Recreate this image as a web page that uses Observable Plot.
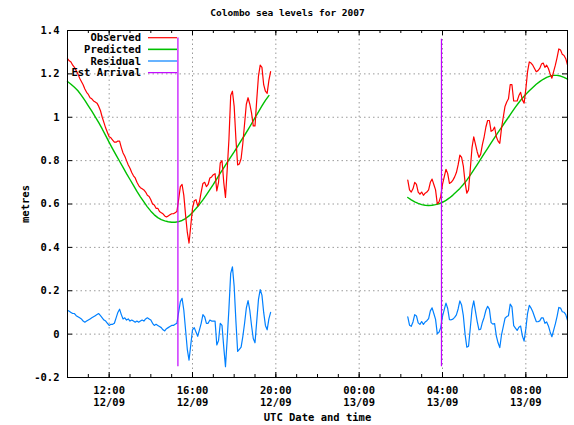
<!DOCTYPE html>
<html>
<head>
<meta charset="utf-8">
<script src="https://cdn.jsdelivr.net/npm/d3@7"></script>
<script src="https://cdn.jsdelivr.net/npm/@observablehq/plot@0.6"></script>
<style>
  html, body { margin: 0; padding: 0; background: #fff; }
  #wrap { position: relative; width: 574px; height: 425px; }
  #wrap svg { display: block; }
  #legend { position: absolute; left: 0; top: 0; pointer-events: none; }
</style>
</head>
<body>
<div id="wrap"></div>
<script>
const title = "Colombo sea levels for 2007";
const xLabel = "UTC Date and time";
const yLabel = "metres";

// Segment 1 (12/09) and segment 2 (13/09), observed/residual every 5 min, predicted every 10 min
const seg1Start = "2007-09-12T10:00Z";
const seg2Start = "2007-09-13T02:20Z";
const obsStepMin = 5;
const predStepMin = 10;

const observed1 = [
  1.27, 1.26, 1.255, 1.24, 1.23, 1.215, 1.20, 1.18, 1.165, 1.15, 1.13, 1.115,
  1.105, 1.09, 1.085, 1.075, 1.07, 1.065, 1.05, 1.03, 1.00, 0.975, 0.95, 0.93,
  0.91, 0.905, 0.895, 0.885, 0.885, 0.89, 0.89, 0.86, 0.835, 0.82, 0.80, 0.78,
  0.765, 0.745, 0.73, 0.72, 0.70, 0.685, 0.675, 0.67, 0.665, 0.655, 0.64, 0.635,
  0.62, 0.60, 0.595, 0.58, 0.58, 0.565, 0.56, 0.555, 0.545, 0.54, 0.545, 0.55,
  0.555, 0.555, 0.56, 0.565, 0.62, 0.68, 0.69, 0.64, 0.55, 0.47, 0.42, 0.50,
  0.58, 0.615, 0.62, 0.59, 0.61, 0.655, 0.695, 0.70, 0.68, 0.69, 0.72, 0.725,
  0.735, 0.74, 0.66, 0.70, 0.79, 0.80, 0.70, 0.63, 0.76, 0.90, 1.10, 1.12,
  1.05, 0.90, 0.78, 0.785, 0.81, 0.88, 0.97, 1.06, 1.09, 1.06, 1.02, 0.96,
  0.96, 1.08, 1.19, 1.24, 1.23, 1.15, 1.12, 1.11, 1.17, 1.21
];
const predicted1 = [
  1.165, 1.152, 1.138, 1.122, 1.101, 1.078,
  1.053, 1.028, 1.002, 0.975, 0.946, 0.915,
  0.884, 0.854, 0.825, 0.797, 0.769, 0.74,
  0.713, 0.686, 0.658, 0.633, 0.61, 0.587,
  0.567, 0.55, 0.537, 0.528, 0.522, 0.518,
  0.516, 0.516, 0.519, 0.524, 0.533, 0.545,
  0.561, 0.579, 0.598, 0.619, 0.642, 0.666,
  0.69, 0.716, 0.742, 0.767, 0.792, 0.816,
  0.84, 0.866, 0.892, 0.917, 0.943, 0.97,
  0.998, 1.025, 1.052, 1.078, 1.10
];
const residual1 = [
  0.11, 0.105, 0.10, 0.095, 0.095, 0.085, 0.08, 0.075, 0.07, 0.06, 0.055, 0.06,
  0.065, 0.07, 0.075, 0.08, 0.085, 0.09, 0.095, 0.085, 0.075, 0.065, 0.06, 0.05,
  0.04, 0.045, 0.045, 0.05, 0.075, 0.10, 0.115, 0.09, 0.07, 0.075, 0.065, 0.07,
  0.06, 0.065, 0.06, 0.055, 0.06, 0.055, 0.06, 0.065, 0.06, 0.07, 0.075, 0.07,
  0.065, 0.05, 0.04, 0.045, 0.04, 0.035, 0.03, 0.02, 0.015, 0.025, 0.03, 0.035,
  0.04, 0.04, 0.045, 0.05, 0.10, 0.15, 0.165, 0.11, 0.02, -0.07, -0.12, -0.05,
  0.02, 0.03, 0.01, -0.01, 0.02, 0.05, 0.09, 0.08, 0.05, 0.05, 0.065, 0.06,
  0.06, 0.06, -0.05, -0.03, 0.05, 0.04, -0.06, -0.15, -0.02, 0.12, 0.28, 0.31,
  0.22, 0.06, -0.08, -0.07, -0.06, -0.01, 0.05, 0.12, 0.155, 0.11, 0.04, -0.02,
  -0.04, 0.06, 0.16, 0.205, 0.18, 0.10, 0.04, 0.02, 0.07, 0.10
];

const observed2 = [
  0.71, 0.665, 0.655, 0.67, 0.70, 0.69, 0.655, 0.645, 0.655, 0.64, 0.65, 0.655,
  0.665, 0.70, 0.715, 0.69, 0.665, 0.60, 0.61, 0.635, 0.69, 0.725, 0.76, 0.74,
  0.695, 0.70, 0.71, 0.725, 0.745, 0.78, 0.825, 0.815, 0.775, 0.70, 0.65, 0.665,
  0.76, 0.86, 0.91, 0.875, 0.84, 0.815, 0.83, 0.875, 0.91, 0.955, 0.985, 0.985,
  0.935, 0.94, 0.955, 0.91, 0.89, 0.88, 0.95, 1.00, 1.05, 1.07, 1.085, 1.15,
  1.15, 1.075, 1.075, 1.075, 1.10, 1.115, 1.08, 1.065, 1.13, 1.21, 1.255, 1.25,
  1.24, 1.225, 1.21, 1.215, 1.225, 1.245, 1.25, 1.23, 1.24, 1.225, 1.20, 1.18,
  1.21, 1.24, 1.275, 1.315, 1.31, 1.29, 1.285, 1.27, 1.24
];
const predicted2 = [
  0.63, 0.619, 0.61, 0.603, 0.597, 0.594,
  0.593, 0.594, 0.597, 0.601, 0.608, 0.617,
  0.628, 0.641, 0.656, 0.672, 0.69, 0.71,
  0.733, 0.757, 0.782, 0.807, 0.832, 0.857,
  0.882, 0.906, 0.93, 0.953, 0.977, 1.0,
  1.024, 1.047, 1.068, 1.088, 1.106, 1.122,
  1.137, 1.152, 1.164, 1.175, 1.184, 1.19,
  1.193, 1.193, 1.19, 1.184, 1.176
];
const residual2 = [
  0.08, 0.041, 0.036, 0.056, 0.09, 0.084, 0.052, 0.045, 0.058, 0.045, 0.056, 0.062,
  0.072, 0.107, 0.121, 0.095, 0.068, 0.001, 0.009, 0.031, 0.082, 0.113, 0.143, 0.118,
  0.067, 0.066, 0.069, 0.077, 0.089, 0.116, 0.153, 0.134, 0.085, 0.0, -0.06, -0.056,
  0.027, 0.115, 0.153, 0.105, 0.058, 0.02, 0.023, 0.055, 0.078, 0.11, 0.128, 0.115,
  0.053, 0.046, 0.049, -0.008, -0.04, -0.062, -0.003, 0.035, 0.073, 0.081, 0.085, 0.138,
  0.126, 0.039, 0.028, 0.017, 0.032, 0.037, -0.008, -0.032, 0.024, 0.096, 0.133, 0.12,
  0.103, 0.08, 0.058, 0.057, 0.061, 0.075, 0.075, 0.05, 0.056, 0.038, 0.01, -0.012,
  0.017, 0.047, 0.082, 0.123, 0.12, 0.103, 0.101, 0.09, 0.064
];

// Estimated tsunami arrival times and the span of their markers
const arrivalTimes = ["2007-09-12T15:18Z", "2007-09-13T03:57Z"];
const arrivalLow = [-0.15, -0.15];
const arrivalHigh = [1.365, 1.36];

// Axes
const xDomain = ["2007-09-12T10:00Z", "2007-09-13T10:00Z"];
const xMajorTicks = ["2007-09-12T12:00Z", "2007-09-12T16:00Z", "2007-09-12T20:00Z",
                     "2007-09-13T00:00Z", "2007-09-13T04:00Z", "2007-09-13T08:00Z"];
const yTicks = [-0.2, 0, 0.2, 0.4, 0.6, 0.8, 1.0, 1.2, 1.4];

const legendLabels = ["Observed", "Predicted", "Residual", "Est Arrival"];
const colors = {Observed: "#ff0000", Predicted: "#00c000", Residual: "#0080ff", "Est Arrival": "#c000ff"};

function series(start, stepMin, values) {
  const t0 = Date.parse(start);
  return values.map((v, i) => ({t: new Date(t0 + i * stepMin * 60000), v}));
}
const obs1 = series(seg1Start, obsStepMin, observed1);
const obs2 = series(seg2Start, obsStepMin, observed2);
const pred1 = series(seg1Start, predStepMin, predicted1);
const pred2 = series(seg2Start, predStepMin, predicted2);
const res1 = series(seg1Start, obsStepMin, residual1);
const res2 = series(seg2Start, obsStepMin, residual2);
const arrivals = arrivalTimes.map((s, i) => ({t: new Date(s), lo: arrivalLow[i], hi: arrivalHigh[i]}));

const xMajor = xMajorTicks.map(s => new Date(s));
const dom = xDomain.map(s => new Date(s));
const xMinor = d3.utcHour.range(dom[0], d3.utcHour.offset(dom[1], 1));

const fmtH = d3.utcFormat("%H:%M"), fmtD = d3.utcFormat("%d/%m");
const font = "'DejaVu Sans Mono', 'Liberation Mono', monospace";

const W = 574, H = 425, mL = 67, mR = 7, mT = 30, mB = 48;
const frameH = H - mT - mB, frameW = W - mL - mR;

const gridStyle = {stroke: "#9a9a9a", strokeOpacity: 1, strokeWidth: 1, strokeDasharray: "1.5,3"};

const chart = Plot.plot({
  width: W, height: H,
  marginLeft: mL, marginRight: mR, marginTop: mT, marginBottom: mB,
  style: {fontFamily: font, fontWeight: "bold", fontSize: "10.5px", background: "#fff", color: "#000"},
  x: {type: "utc", domain: dom},
  y: {domain: [-0.2, 1.4]},
  marks: [
    Plot.gridX(xMajor, {...gridStyle}),
    Plot.gridY(yTicks, {...gridStyle}),
    Plot.tickX(xMinor, {x: d => d, insetTop: frameH - 3, stroke: "#000"}),
    Plot.tickX(xMinor, {x: d => d, insetBottom: frameH - 3, stroke: "#000"}),
    Plot.tickX(xMajor, {x: d => d, insetTop: frameH - 5, stroke: "#000"}),
    Plot.tickX(xMajor, {x: d => d, insetBottom: frameH - 5, stroke: "#000"}),
    Plot.tickY(yTicks, {y: d => d, insetRight: frameW - 5, stroke: "#000"}),
    Plot.tickY(yTicks, {y: d => d, insetLeft: frameW - 5, stroke: "#000"}),
    Plot.axisX({ticks: xMajor, tickSize: 0, tickPadding: 7.5, lineHeight: 1.18,
                tickFormat: d => fmtH(d) + "\n" + fmtD(d), label: null}),
    Plot.axisY({ticks: yTicks, tickSize: 0, tickPadding: 8,
                tickFormat: d => String(Math.round(d * 10) / 10), label: null}),
    Plot.line(pred1, {x: "t", y: "v", stroke: colors.Predicted, strokeWidth: 1.4}),
    Plot.line(pred2, {x: "t", y: "v", stroke: colors.Predicted, strokeWidth: 1.4}),
    Plot.line(obs1, {x: "t", y: "v", stroke: colors.Observed, strokeWidth: 1.2}),
    Plot.line(obs2, {x: "t", y: "v", stroke: colors.Observed, strokeWidth: 1.2}),
    Plot.line(res1, {x: "t", y: "v", stroke: colors.Residual, strokeWidth: 1.2}),
    Plot.line(res2, {x: "t", y: "v", stroke: colors.Residual, strokeWidth: 1.2}),
    Plot.ruleX(arrivals, {x: "t", y1: "lo", y2: "hi", stroke: colors["Est Arrival"], strokeWidth: 1.2}),
    Plot.frame({stroke: "#000", strokeWidth: 1}),
    Plot.text([title], {frameAnchor: "top", dx: -30, dy: -18, lineAnchor: "middle", fontSize: 9.5}),
    Plot.text([xLabel], {frameAnchor: "bottom", dy: 40, lineAnchor: "middle"}),
    Plot.text([yLabel], {frameAnchor: "left", dx: -42, rotate: -90, lineAnchor: "middle", textAnchor: "middle"})
  ]
});
const wrap = document.getElementById("wrap");
wrap.appendChild(chart);

// Legend (gnuplot-style key, top-left inside the frame)
const leg = d3.select(wrap).append("svg").attr("id", "legend")
  .attr("width", W).attr("height", H);
const rowY0 = 37.7, rowGap = 11.65, textRight = 141, lineX1 = 148, lineX2 = 177;
legendLabels.forEach((name, i) => {
  const y = rowY0 + i * rowGap;
  leg.append("text").attr("x", textRight).attr("y", y)
    .attr("text-anchor", "end").attr("dy", "0.36em")
    .attr("font-family", font).attr("font-weight", "bold").attr("font-size", "10.5px")
    .text(name);
  leg.append("line").attr("x1", lineX1).attr("x2", lineX2).attr("y1", y).attr("y2", y)
    .attr("stroke", colors[name]).attr("stroke-width", name === "Predicted" ? 1.6 : 1.2);
});
</script>
</body>
</html>
